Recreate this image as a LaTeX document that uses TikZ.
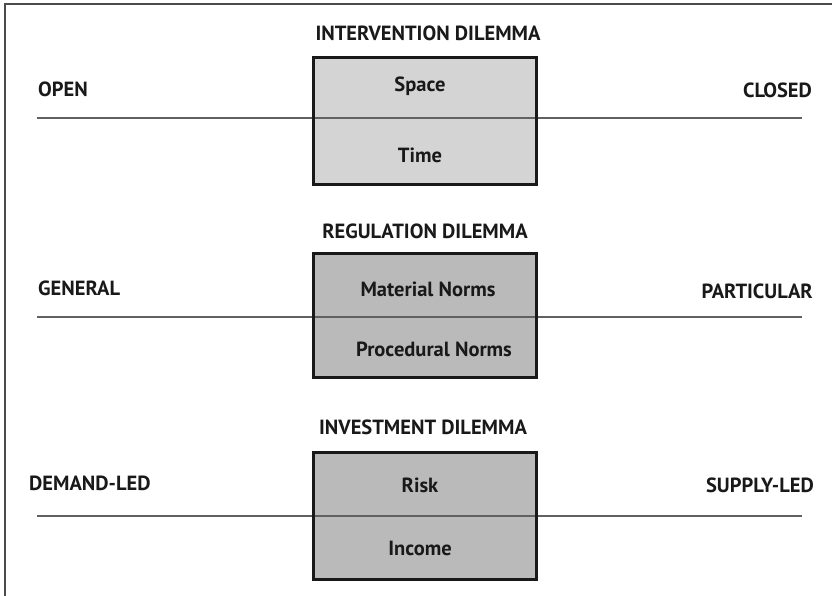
\documentclass[tikz,border=0pt]{standalone}
\usepackage{fontspec}
\setmainfont{PT Sans}
\begin{document}
\begin{tikzpicture}[x=1bp,y=-1bp,
  lbl/.style={font=\bfseries\fontsize{20.5bp}{24bp}\selectfont, inner sep=0pt, text=black!90},
  dbox/.style={draw=black!90, line width=3bp},
  axis/.style={draw=black!62, line width=2bp},
  frame/.style={draw=black!70, line width=1.5bp}]
\useasboundingbox (0,0) rectangle (832,596);
\draw[frame] (5,600) -- (5,4) -- (840,4);

% group 1
\coordinate (l1a) at (37,118); \coordinate (l1b) at (802,118);
\draw[axis] (l1a) -- (l1b);
\path[fill=black!17] (313,58) rectangle (536,185);
\draw[axis] (313,118) -- (536,118);
\draw[dbox] (313,58) rectangle (536,185);
\node[lbl] (t1) at (428,33) {INTERVENTION DILEMMA};
\node[lbl] (s1) at (420,86) {Space};
\node[lbl] (s2) at (420,155) {Time};
\node[lbl, anchor=west] (o1) at (38,89) {OPEN};
\node[lbl, anchor=east] (c1) at (812,90) {CLOSED};

% group 2
\coordinate (l2a) at (37,317); \coordinate (l2b) at (802,317);
\draw[axis] (l2a) -- (l2b);
\path[fill=black!27] (313,253) rectangle (536,377);
\draw[axis] (313,317) -- (536,317);
\draw[dbox] (313,253) rectangle (536,377);
\node[lbl] (t2) at (425,231) {REGULATION DILEMMA};
\node[lbl] (m2) at (428,289) {Material Norms};
\node[lbl] (p2) at (434,349) {Procedural Norms};
\node[lbl, anchor=west] (g2) at (38,288) {GENERAL};
\node[lbl, anchor=east] (pa2) at (813,291) {PARTICULAR};

% group 3
\coordinate (l3a) at (37,516); \coordinate (l3b) at (802,516);
\draw[axis] (l3a) -- (l3b);
\path[fill=black!27] (313,452) rectangle (536,579);
\draw[axis] (313,516) -- (536,516);
\draw[dbox] (313,452) rectangle (536,579);
\node[lbl] (t3) at (423,427) {INVESTMENT DILEMMA};
\node[lbl] (r3) at (420,485) {Risk};
\node[lbl] (i3) at (420,548) {Income};
\node[lbl, anchor=west] (d3) at (29,483) {DEMAND-LED};
\node[lbl, anchor=east] (su3) at (814,485) {SUPPLY-LED};
\end{tikzpicture}
\end{document}
